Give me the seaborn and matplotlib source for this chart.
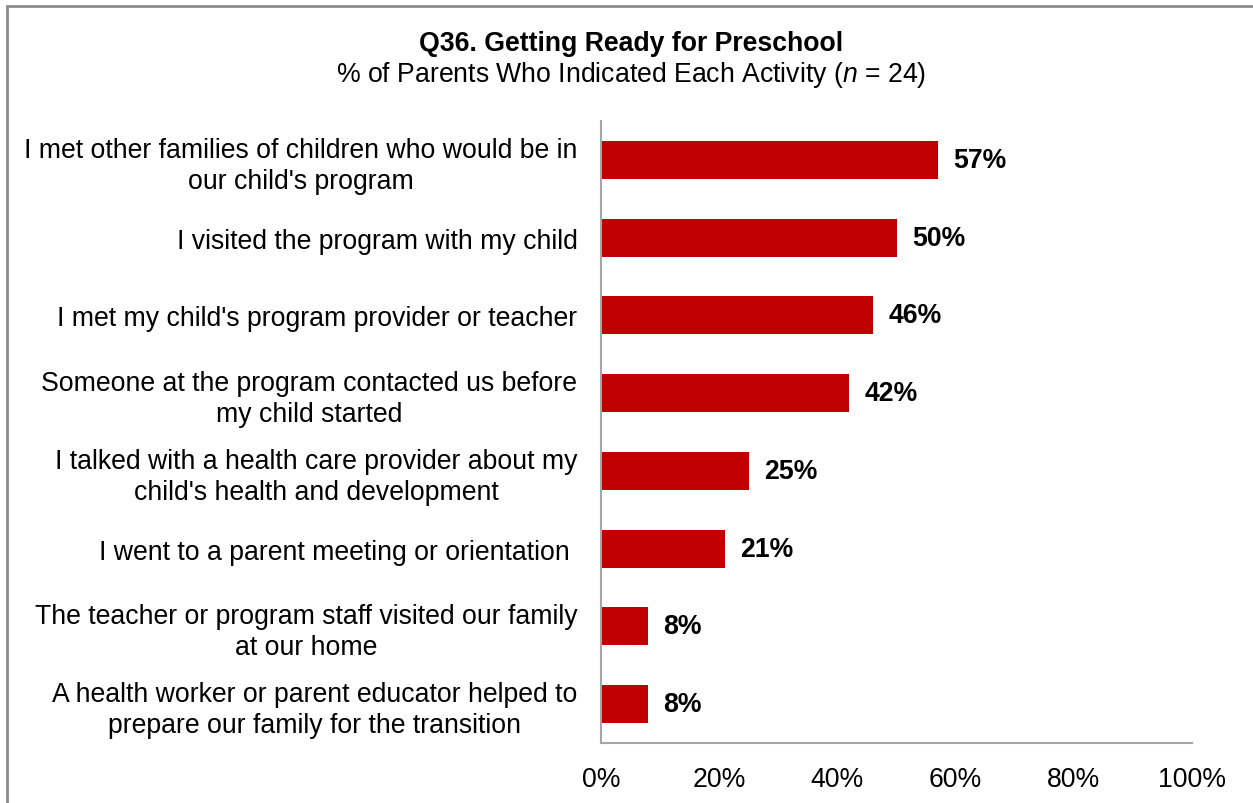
import matplotlib
matplotlib.use("Agg")
import matplotlib.pyplot as plt
import seaborn as sns
import pandas as pd
from matplotlib.patches import Rectangle

activities = [
    "I met other families of children who would be in\nour child's program",
    "I visited the program with my child",
    "I met my child's program provider or teacher",
    "Someone at the program contacted us before\nmy child started",
    "I talked with a health care provider about my\nchild's health and development",
    "I went to a parent meeting or orientation ",
    "The teacher or program staff visited our family\nat our home",
    "A health worker or parent educator helped to\nprepare our family for the transition",
]
percents = [57, 50, 46, 42, 25, 21, 8, 8]
x_ticks = [0, 20, 40, 60, 80, 100]
x_tick_labels = ["0%", "20%", "40%", "60%", "80%", "100%"]

FS = 19.2

sns.set_theme(style="white")
plt.rcParams["font.family"] = ["Liberation Sans", "DejaVu Sans"]
plt.rcParams["text.color"] = "black"
plt.rcParams["mathtext.fontset"] = "custom"
plt.rcParams["mathtext.it"] = "Liberation Sans:italic"
plt.rcParams["mathtext.rm"] = "Liberation Sans"

df = pd.DataFrame({"activity": activities, "percent": percents})

fig = plt.figure(figsize=(12.53, 8.04), dpi=100)
ax = fig.add_axes([601 / 1253, 1 - 744 / 804, (1192 - 601) / 1253, (744 - 122) / 804])

sns.barplot(data=df, x="percent", y="activity", orient="h", color="#C00000",
            saturation=1, width=0.49, linewidth=0, ax=ax)

ax.set_xlim(0, 100)
ax.set_ylim(len(activities) - 0.5, -0.5)
ax.set_xticks(x_ticks)
ax.set_xticklabels(x_tick_labels)
ax.set_xlabel("")
ax.set_ylabel("")
ax.tick_params(axis="x", length=0, pad=16.5, labelsize=FS, colors="black")
ax.tick_params(axis="y", length=0, pad=17, labelsize=FS, colors="black")
for lbl in ax.get_yticklabels():
    lbl.set_multialignment("center")
    lbl.set_linespacing(1.24)

for side in ["top", "right"]:
    ax.spines[side].set_visible(False)
for side in ["left", "bottom"]:
    ax.spines[side].set_color("#A6A6A6")
    ax.spines[side].set_linewidth(1.5)

for i, v in enumerate(percents):
    ax.annotate(f"{v}%", xy=(v, i), xytext=(11, 0), textcoords="offset points",
                va="center", ha="left", fontsize=FS, fontweight="bold", color="black")

fig.text(0.5036, 1 - 44 / 804, "Q36. Getting Ready for Preschool", ha="center", va="center",
         fontsize=FS, fontweight="bold", color="black")
fig.text(0.5036, 1 - 75 / 804, "% of Parents Who Indicated Each Activity ($n$ = 24)",
         ha="center", va="center", fontsize=FS, color="black")

# outer chart frame, running off the right and bottom edges
fig.patches.append(Rectangle((6.5 / 1253, -0.05), 1.1, 1 - 6.5 / 804 + 0.05,
                             transform=fig.transFigure, fill=False,
                             edgecolor="#8C8C8C", linewidth=2))

fig.savefig("out.png", dpi=100)
